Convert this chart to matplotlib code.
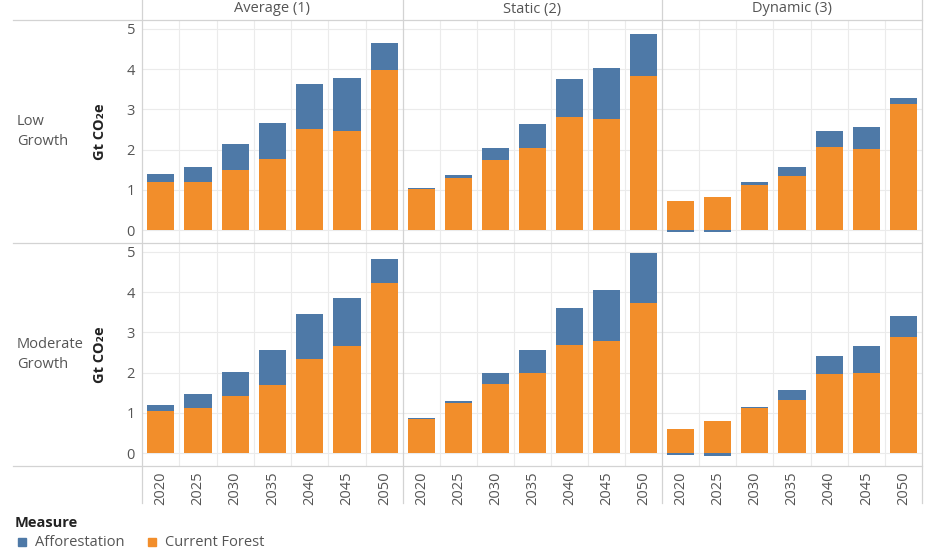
import numpy as np
import matplotlib
matplotlib.use("Agg")
import matplotlib.pyplot as plt
from matplotlib.lines import Line2D
from matplotlib.patches import Rectangle

plt.rcParams['font.family'] = ['Open Sans', 'DejaVu Sans']

# data (Gt CO2e)
years = ['2020', '2025', '2030', '2035', '2040', '2045', '2050']
methods = ['Average (1)', 'Static (2)', 'Dynamic (3)']
scenarios = ['Low\nGrowth', 'Moderate\nGrowth']

# current forest
low_current = [
    [1.19, 1.20, 1.49, 1.77, 2.50, 2.47, 3.98],
    [1.01, 1.29, 1.74, 2.05, 2.82, 2.75, 3.83],
    [0.72, 0.83, 1.11, 1.34, 2.06, 2.01, 3.14],
]
mod_current = [
    [1.04, 1.13, 1.43, 1.70, 2.33, 2.65, 4.23],
    [0.86, 1.25, 1.72, 2.00, 2.68, 2.78, 3.72],
    [0.59, 0.80, 1.12, 1.33, 1.96, 2.00, 2.88],
]
# afforestation
low_affor = [
    [0.21, 0.38, 0.65, 0.88, 1.12, 1.30, 0.68],
    [0.03, 0.08, 0.31, 0.58, 0.93, 1.27, 1.04],
    [-0.04, -0.04, 0.08, 0.24, 0.41, 0.56, 0.13],
]
mod_affor = [
    [0.15, 0.33, 0.58, 0.86, 1.12, 1.20, 0.59],
    [0.01, 0.05, 0.26, 0.57, 0.93, 1.26, 1.26],
    [-0.05, -0.07, 0.02, 0.23, 0.45, 0.67, 0.52],
]

blue = '#4e79a7'
orange = '#f28e2b'
sep_col = '#d3d3d3'
grid_col = '#ebebeb'
txt_col = '#555555'
fs = 10.5

W, H = 944, 558
fig = plt.figure(figsize=(W / 100, H / 100), dpi=100)

col_x = [142, 403, 662, 922]
row_y = [20, 243, 466]
ymin, ymax = -0.32, 5.22

def fx(px):
    return px / W

def fy(py):
    return 1 - py / H

data = [(low_current, low_affor), (mod_current, mod_affor)]

for r in range(2):
    cur_all, aff_all = data[r]
    for c in range(3):
        ax = fig.add_axes([fx(col_x[c]), fy(row_y[r + 1]),
                           fx(col_x[c + 1] - col_x[c]), (row_y[r + 1] - row_y[r]) / H])
        cur = np.array(cur_all[c])
        aff = np.array(aff_all[c])
        x = np.arange(len(years))
        ax.bar(x, cur, width=0.73, color=orange, zorder=3)
        # negative afforestation hangs below zero
        bottoms = np.where(aff < 0, 0, cur)
        ax.bar(x, aff, width=0.73, bottom=bottoms, color=blue, zorder=3)
        ax.set_xlim(-0.5, 6.5)
        ax.set_ylim(ymin, ymax)
        ax.set_yticks([0, 1, 2, 3, 4, 5])
        ax.set_xticks(x)
        ax.set_xticks(x[:-1] + 0.5, minor=True)
        ax.grid(axis='y', which='major', color=grid_col, lw=0.8, zorder=0)
        ax.grid(axis='x', which='minor', color=grid_col, lw=0.8, zorder=0)
        ax.tick_params(which='both', length=0)
        for s in ax.spines.values():
            s.set_visible(False)
        if c == 0:
            ax.tick_params(axis='y', labelsize=fs, labelcolor=txt_col, pad=5)
        else:
            ax.set_yticklabels([])
        if r == 1:
            ax.set_xticklabels(years, rotation=90, fontsize=fs, color=txt_col)
            ax.tick_params(axis='x', pad=4)
        else:
            ax.set_xticklabels([])

# frame and separator lines
def fline(x0, x1, y0, y1):
    fig.add_artist(Line2D([fx(x0), fx(x1)], [fy(y0), fy(y1)], color=sep_col, lw=0.9))

for yy in row_y:
    fline(13, 922, yy, yy)
for xx in col_x:
    fline(xx, xx, 0, 503)

# column headers
for c, m in enumerate(methods):
    fig.text(fx((col_x[c] + col_x[c + 1]) / 2), fy(9), m, ha='center', va='center',
             fontsize=fs, color=txt_col)

# row labels and y labels
for r, s in enumerate(scenarios):
    yc = (row_y[r] + row_y[r + 1]) / 2
    fig.text(fx(17), fy(yc), s, ha='left', va='center', fontsize=fs,
             color=txt_col, linespacing=1.4)
    fig.text(fx(100), fy(yc), 'Gt CO₂e', ha='center', va='center', rotation=90,
             fontsize=fs, color='#222222', fontweight='bold')

# legend
fig.text(fx(15), fy(523), 'Measure', ha='left', va='center', fontsize=fs,
         color='#222222', fontweight='bold')
fig.add_artist(Rectangle((fx(18), fy(546)), fx(8), 8 / H, color=blue))
fig.text(fx(35), fy(542), 'Afforestation', ha='left', va='center', fontsize=fs, color=txt_col)
fig.add_artist(Rectangle((fx(148), fy(546)), fx(8), 8 / H, color=orange))
fig.text(fx(165), fy(542), 'Current Forest', ha='left', va='center', fontsize=fs, color=txt_col)

fig.savefig('out.png', dpi=100)
